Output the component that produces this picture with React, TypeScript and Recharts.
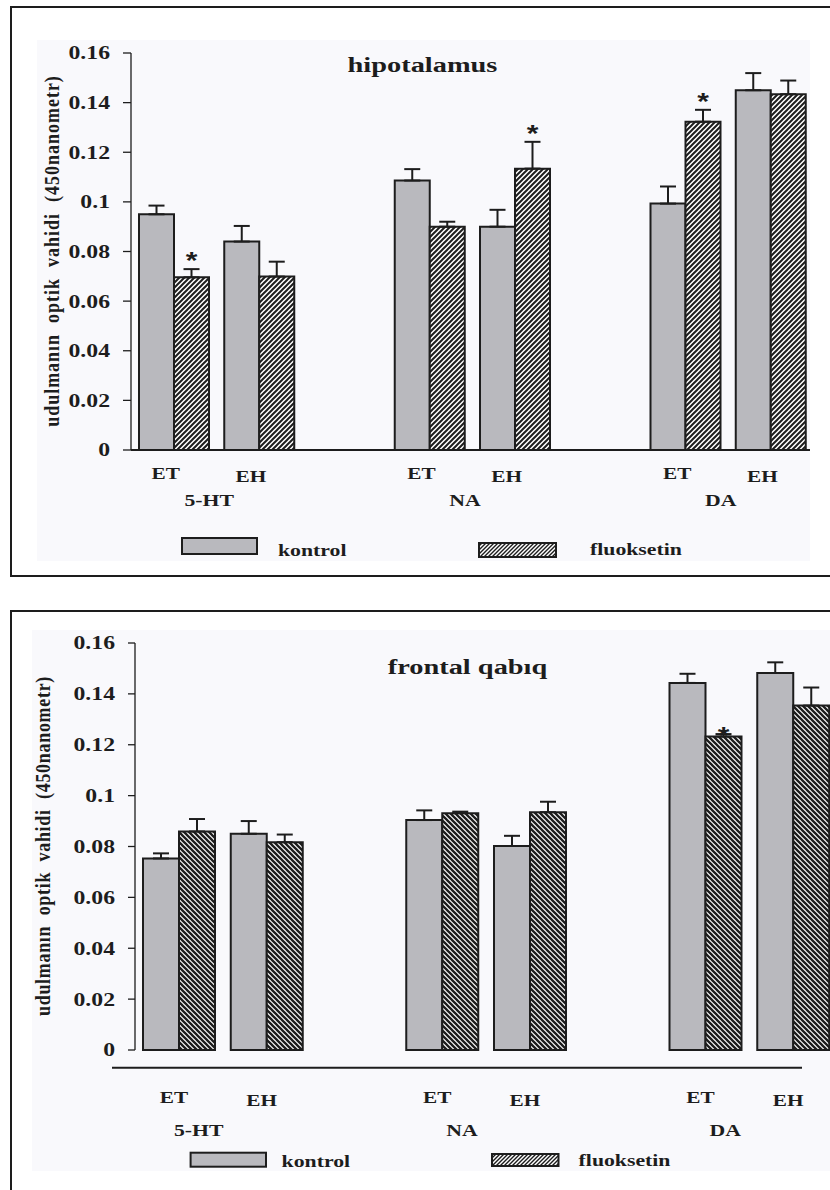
import React from "react";
import { BarChart, Bar, XAxis, YAxis, ErrorBar, LabelList, Legend } from "recharts";

// x slots: empty slots keep the three transmitter groups apart
const slots = ["ET", "EH", "", "ET", "EH", "", "ET", "EH"];
const slotGroups = ["5-HT", "", "", "NA", "", "", "DA", ""];
const seriesNames = ["kontrol", "fluoksetin"];
const yTicks = [0, 0.02, 0.04, 0.06, 0.08, 0.1, 0.12, 0.14, 0.16];
const yLabel = "udulmanın  optik  vahidi  (450nanometr)";

// hipotalamus
const hipoKontrol = [0.095, 0.084, null, 0.1086, 0.09, null, 0.0993, 0.145];
const hipoKontrolErr = [0.0035, 0.0063, null, 0.0046, 0.0068, null, 0.0069, 0.0069];
const hipoFluo = [0.0696, 0.0699, null, 0.09, 0.1134, null, 0.1323, 0.1434];
const hipoFluoErr = [0.0033, 0.006, null, 0.002, 0.0108, null, 0.0048, 0.0055];
const hipoStar = [true, false, false, false, true, false, true, false];

// frontal qabıq
const frontKontrol = [0.0753, 0.085, null, 0.0904, 0.0802, null, 0.1443, 0.1482];
const frontKontrolErr = [0.002, 0.005, null, 0.0038, 0.004, null, 0.0036, 0.0042];
const frontFluo = [0.0859, 0.0817, null, 0.0931, 0.0935, null, 0.1232, 0.1354];
const frontFluoErr = [0.0049, 0.003, null, 0.0006, 0.0041, null, 0.001, 0.0071];
const frontStar = [false, false, false, false, false, false, true, false];

const INK = "#1d1d1d";
const GRAY = "#b9b9be";
const PANEL_BG = "#f9f9fc";
const SERIF = "'Liberation Serif', 'Times New Roman', serif";

const buildRows = (k, kErr, f, fErr, star) =>
  slots.map((label, i) => ({
    slot: "s" + i,
    label,
    group: slotGroups[i],
    kontrol: k[i],
    kontrolErr: k[i] == null ? undefined : [0, kErr[i]],
    fluoksetin: f[i],
    fluoksetinErr: f[i] == null ? undefined : [0, fErr[i]],
    cap: f[i] == null ? null : fErr[i],
    starText: star[i] ? "*" : null,
  }));

const fmt = (v) => (v === 0 ? "0" : String(v));

// bold serif text, stretched sideways like the scanned figure
const SText = ({ x, y, sx = 1.3, size = 17, anchor = "start", dy = 0, family = SERIF, children }) => (
  <g transform={`translate(${x},${y}) scale(${sx},1)`}>
    <text textAnchor={anchor} dy={dy} fontFamily={family} fontWeight="bold" fontSize={size} fill={INK}>
      {children}
    </text>
  </g>
);

const top = {
  id: "hipo",
  title: "hipotalamus",
  rows: buildRows(hipoKontrol, hipoKontrolErr, hipoFluo, hipoFluoErr, hipoStar),
  left: 37, top: 40, panelW: 773, panelH: 521,
  width: 790, right: 14, plotTop: 13, yAxisW: 94, plotBottom: 410,
  barSize: 35, tickLen: 8, slash: true, hatchW: 2,
  labelDx: -8, etDy: 29, ehDy: 32, groupDx: -7, groupDy: 56,
  yLabelPos: [15, 211], yLabelLs: 1,
  titlePos: [385.5, 32],
  starDy: 0,
  axisLine: true,
  legend: {
    kontrol: { box: [145, 498, 75, 16], text: [241, 516] },
    fluoksetin: { box: [442, 503, 77, 14], text: [553, 515] },
  },
};

const bottom = {
  id: "front",
  title: "frontal qabıq",
  rows: buildRows(frontKontrol, frontKontrolErr, frontFluo, frontFluoErr, frontStar),
  left: 32, top: 630, panelW: 798, panelH: 541,
  width: 820, right: 15, plotTop: 13, yAxisW: 103, plotBottom: 420,
  barSize: 36, tickLen: 7, slash: false, hatchW: 2.3,
  labelDx: -5, etDy: 53, ehDy: 56, groupDx: -24, groupDy: 86,
  yLabelPos: [11, 216], yLabelLs: 0.7,
  titlePos: [435.5, 44],
  starDy: 9.5,
  axisLine: false,
  baseLine: [80, 770, 437.7],
  legend: {
    kontrol: { box: [158.6, 522.7, 75.4, 14], text: [249.6, 537] },
    fluoksetin: { box: [460, 524, 66.5, 12], text: [546.6, 536] },
  },
};

const LegendArt = ({ payload, cfg }) => {
  const items = (payload || []).filter((p) => p.type !== "none" && seriesNames.includes(p.value));
  return (
    <svg width={cfg.panelW} height={cfg.panelH} style={{ position: "absolute", left: 0, top: 0 }}>
      <defs>
        <pattern id={cfg.id + "-leg"} width={4} height={4} patternUnits="userSpaceOnUse">
          <rect width={4} height={4} fill="#fff" />
          <path d="M-1,1 L1,-1 M0,4 L4,0 M3,5 L5,3" stroke={INK} strokeWidth={1.4} />
        </pattern>
      </defs>
      {items.map((it) => {
        const pos = cfg.legend[it.value];
        const [bx, by, bw, bh] = pos.box;
        return (
          <g key={it.value}>
            <rect
              x={bx} y={by} width={bw} height={bh}
              fill={it.value === "kontrol" ? GRAY : `url(#${cfg.id}-leg)`}
              stroke={INK} strokeWidth={2}
            />
            <SText x={pos.text[0]} y={pos.text[1]} sx={1.28} size={17}>{it.value}</SText>
          </g>
        );
      })}
    </svg>
  );
};

const Panel = ({ cfg }) => {
  const rows = cfg.rows;
  const slotW = (cfg.width - cfg.right - cfg.yAxisW) / slots.length;

  const XTick = (props) => {
    const { x, y, payload } = props;
    const row = rows.find((r) => r.slot === payload.value);
    if (!row) return null;
    return (
      <g>
        {row.label ? (
          <SText x={x + cfg.labelDx} y={y + (row.label === "EH" ? cfg.ehDy : cfg.etDy)} sx={1.25} anchor="middle">
            {row.label}
          </SText>
        ) : null}
        {row.group ? (
          <SText x={x + slotW / 2 + cfg.groupDx} y={y + cfg.groupDy} sx={1.28} anchor="middle">
            {row.group}
          </SText>
        ) : null}
      </g>
    );
  };

  const YTick = (props) => (
    <SText x={props.x} y={props.y} dy="0.36em" sx={1.32} size={18} anchor="end">
      {fmt(props.payload.value)}
    </SText>
  );

  const StarLabel = (p) =>
    p.value ? (
      <SText x={p.x + p.width / 2} y={p.y + cfg.starDy} sx={1.25} size={24} anchor="middle" family="'Liberation Sans', Arial, sans-serif">
        *
      </SText>
    ) : null;

  const YLabel = () => (
    <text
      transform={`translate(${cfg.yLabelPos[0]},${cfg.yLabelPos[1]}) scale(1.15,1) rotate(-90)`}
      textAnchor="middle"
      dy="0.35em"
      fontFamily={SERIF}
      fontWeight="bold"
      fontSize={18}
      letterSpacing={cfg.yLabelLs}
      fill={INK}
      style={{ whiteSpace: "pre" }}
    >
      {yLabel}
    </text>
  );

  return (
    <div
      style={{
        position: "absolute", left: cfg.left, top: cfg.top, width: cfg.panelW, height: cfg.panelH,
        background: PANEL_BG, overflow: "hidden",
      }}
    >
      <BarChart
        width={cfg.width}
        height={cfg.panelH}
        data={rows}
        margin={{ top: cfg.plotTop, right: cfg.right, left: 0, bottom: 0 }}
        barGap={0}
        barSize={cfg.barSize}
      >
        <defs>
          <pattern id={cfg.id + "-hatch"} width={5} height={5} patternUnits="userSpaceOnUse">
            <rect width={5} height={5} fill="#fff" />
            <path
              d={cfg.slash ? "M-1,1 L1,-1 M0,5 L5,0 M4,6 L6,4" : "M-1,4 L1,6 M0,0 L5,5 M4,-1 L6,1"}
              stroke={INK}
              strokeWidth={cfg.hatchW}
            />
          </pattern>
        </defs>
        <XAxis
          dataKey="slot"
          interval={0}
          height={cfg.panelH - cfg.plotBottom}
          tickSize={0}
          tickMargin={0}
          tickLine={false}
          axisLine={cfg.axisLine ? { stroke: INK, strokeWidth: 2 } : false}
          tick={XTick}
        />
        <YAxis
          domain={[0, 0.16]}
          ticks={yTicks}
          interval={0}
          width={cfg.yAxisW}
          tickSize={cfg.tickLen}
          tickMargin={13}
          axisLine={{ stroke: INK, strokeWidth: 1.3 }}
          tickLine={{ stroke: INK, strokeWidth: 1.3 }}
          tick={YTick}
          label={{ content: YLabel }}
        />
        <Legend
          layout="horizontal"
          verticalAlign="middle"
          align="center"
          wrapperStyle={{ left: 0, top: 0, width: cfg.panelW, height: cfg.panelH, pointerEvents: "none" }}
          content={(p) => <LegendArt payload={p.payload} cfg={cfg} />}
        />
        <Bar dataKey="kontrol" name="kontrol" stackId="k" fill={GRAY} stroke={INK} strokeWidth={2} isAnimationActive={false}>
          <ErrorBar dataKey="kontrolErr" width={8} stroke={INK} strokeWidth={2} direction="y" />
        </Bar>
        <Bar
          dataKey="fluoksetin"
          name="fluoksetin"
          stackId="f"
          fill={`url(#${cfg.id}-hatch)`}
          stroke={INK}
          strokeWidth={2}
          isAnimationActive={false}
        >
          <ErrorBar dataKey="fluoksetinErr" width={8} stroke={INK} strokeWidth={2} direction="y" />
        </Bar>
        <Bar dataKey="cap" stackId="f" fill="none" legendType="none" isAnimationActive={false}>
          <LabelList dataKey="starText" content={StarLabel} />
        </Bar>
      </BarChart>
      <svg
        width={cfg.panelW}
        height={cfg.panelH}
        style={{ position: "absolute", left: 0, top: 0, pointerEvents: "none" }}
      >
        <SText x={cfg.titlePos[0]} y={cfg.titlePos[1]} sx={1.42} size={20} anchor="middle">
          {cfg.title}
        </SText>
        {cfg.baseLine ? (
          <line x1={cfg.baseLine[0]} x2={cfg.baseLine[1]} y1={cfg.baseLine[2]} y2={cfg.baseLine[2]} stroke={INK} strokeWidth={2} />
        ) : null}
      </svg>
    </div>
  );
};

export default function App() {
  return (
    <div style={{ position: "absolute", left: 0, top: 0, width: 830, height: 1190, overflow: "hidden", background: "#fff" }}>
      <div
        style={{
          position: "absolute", left: 10, top: 6, width: 850, height: 571,
          border: `2.5px solid ${INK}`, boxSizing: "border-box",
        }}
      />
      <div
        style={{
          position: "absolute", left: 10, top: 610, width: 850, height: 700,
          border: `2.5px solid ${INK}`, boxSizing: "border-box",
        }}
      />
      <Panel cfg={top} />
      <Panel cfg={bottom} />
    </div>
  );
}
